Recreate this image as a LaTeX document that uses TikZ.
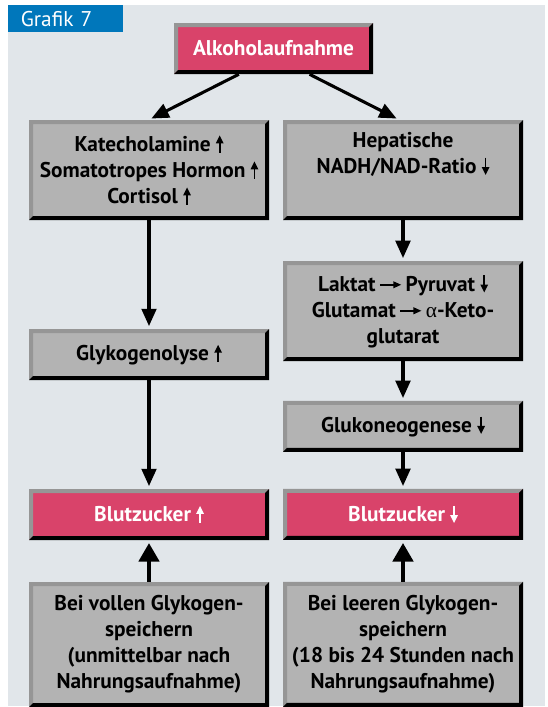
\documentclass[tikz,border=0pt]{standalone}
\usepackage{fontspec}
\setmainfont{PT Sans}
\newfontfamily\griech{Liberation Serif}
\usepackage{tikz}
\usetikzlibrary{arrows.meta,positioning}
\definecolor{bggray}{RGB}{225,230,234}
\definecolor{tabblue}{RGB}{0,119,187}
\definecolor{boxgray}{RGB}{179,179,179}
\definecolor{edgegray}{RGB}{150,150,150}
\definecolor{bzred}{RGB}{217,67,106}
\tikzstyle{arrow} = [line width=2.3pt,-{Triangle[length=13pt,width=11pt]},shorten >=2pt]
\tikzstyle{fatarrow} = [line width=3.5pt,-{Triangle[length=14pt,width=15pt]},shorten >=2pt]
\tikzstyle{stufe} = [rectangle, minimum width=180pt, minimum height=38.25pt, inner sep=0pt, align=center, fill=boxgray,
  font=\bfseries\fontsize{16pt}{19.5pt}\selectfont,
  path picture={
    \fill[edgegray] (path picture bounding box.south west) -- (path picture bounding box.north west)
      -- (path picture bounding box.north east) -- ([shift={(-3pt,-3pt)}]path picture bounding box.north east)
      -- ([shift={(3pt,-3pt)}]path picture bounding box.north west) -- ([shift={(3pt,3pt)}]path picture bounding box.south west) -- cycle;
    \fill[black] (path picture bounding box.north east) -- (path picture bounding box.south east)
      -- (path picture bounding box.south west) -- ([shift={(3pt,3pt)}]path picture bounding box.south west)
      -- ([shift={(-3pt,3pt)}]path picture bounding box.south east) -- ([shift={(-3pt,-3pt)}]path picture bounding box.north east) -- cycle;
  }]
\tikzstyle{ziel} = [stufe, fill=bzred, text=white]
\newcommand{\hoch}{\tikz[baseline=0pt]\draw[line width=1.3pt,color=.,-{Triangle[length=6pt,width=5.5pt]}] (0pt,-1pt) -- (0pt,12pt);}
\newcommand{\runter}{\tikz[baseline=0pt]\draw[line width=1.3pt,color=.,-{Triangle[length=6pt,width=5.5pt]}] (0pt,12pt) -- (0pt,-1pt);}
\newcommand{\nach}{\tikz[baseline=0pt]\draw[line width=1.2pt,color=.,-{Triangle[length=6pt,width=5pt]}] (0pt,4.8pt) -- (16pt,4.8pt);}
\begin{document}
\begin{tikzpicture}[x=0.75pt, y=-0.75pt]
\useasboundingbox (0,0) rectangle (547,707);
\fill[bggray] (8,5) rectangle (545,706);
\node (tab) [anchor=north west, fill=tabblue, text=white, minimum height=20.25pt, text width=67pt,
  inner xsep=9.5pt, align=left, font=\fontsize{16pt}{18pt}\selectfont] at (8,5) {Grafik 7};

% Start
\node (alk) [ziel, minimum width=149.25pt] at (273.5,48.5) {Alkoholaufnahme};

% Linke Spalte
\node (kat) [stufe, minimum height=75pt] at (149,170) {Katecholamine \hoch\\Somatotropes Hormon \hoch\\Cortisol \hoch};
\node (glyk) [stufe, below of=kat, node distance=138.4pt] {Glykogenolyse \hoch};
\node (bzhoch) [ziel, below of=glyk, node distance=120pt] {Blutzucker \hoch};
\node (voll) [stufe, below of=bzhoch, node distance=97.5pt, minimum height=93.75pt] {Bei vollen Glykogen-\\speichern\\(unmittelbar nach\\Nahrungsaufnahme)};

% Rechte Spalte
\node (hep) [stufe, right of=kat, node distance=190.5pt, minimum height=75pt] {Hepatische\\NADH/NAD-Ratio \runter\\\strut};
\node (lak) [stufe, below of=hep, node distance=105.75pt, minimum height=75pt] {Laktat\,\nach\,Pyruvat \runter\\Glutamat\,\nach\,{\griech\mdseries α}-Keto-\\glutarat};
\node (gluk) [stufe, below of=lak, node distance=86.6pt] {Glukoneogenese \runter};
\node (bzrunter) [ziel, below of=gluk, node distance=66pt] {Blutzucker \runter};
\node (leer) [stufe, below of=bzrunter, node distance=97.5pt, minimum height=93.75pt] {Bei leeren Glykogen-\\speichern\\(18 bis 24 Stunden nach\\Nahrungsaufnahme)};

% Pfeile
\draw[arrow] ([xshift=-26pt]alk.south) -- (kat.north);
\draw[arrow] ([xshift=27pt]alk.south) -- ([xshift=-3pt]hep.north);
\draw[arrow] (kat) -- (glyk);
\draw[arrow] (glyk) -- (bzhoch);
\draw[arrow] (hep) -- (lak);
\draw[arrow] (lak) -- (gluk);
\draw[arrow] (gluk) -- (bzrunter);
\draw[fatarrow] (voll) -- (bzhoch);
\draw[fatarrow] (leer) -- (bzrunter);
\end{tikzpicture}
\end{document}
